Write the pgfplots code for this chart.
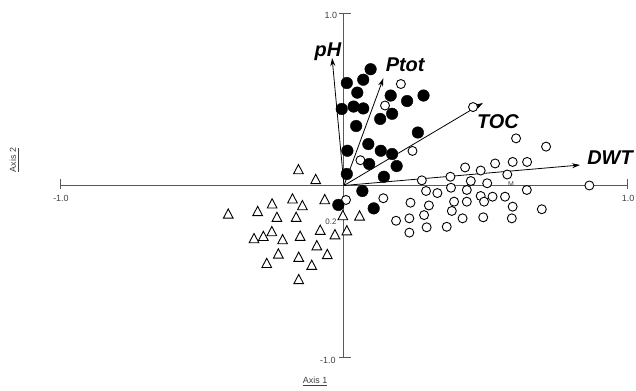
\documentclass[border=0pt]{standalone}
\usepackage{fontspec}
\setmainfont{Liberation Sans}
\usepackage{pgfplots}
\pgfplotsset{compat=1.18}
\usetikzlibrary{arrows.meta}

\begin{document}
\begin{tikzpicture}
\begin{axis}[
  width=636bp, height=391bp, scale only axis,
  xmin=-1.2155, xmax=1.0318, ymin=-1.1948, ymax=1.0785,
  hide axis, clip=false,
]
\coordinate (sw) at (rel axis cs:0,0);
\coordinate (ne) at (rel axis cs:1,1);
% axis lines
\draw[black!65, line width=1bp] (axis cs:-1,0) -- (axis cs:1,0);
\draw[black!65, line width=1bp] (axis cs:0,-1) -- (axis cs:0,1);
\draw[black!65, line width=1bp] (axis cs:-1,-0.023) -- (axis cs:-1,0.04);
\draw[black!65, line width=1bp] (axis cs:1,-0.023) -- (axis cs:1,0.04);
\draw[black!65, line width=1bp] (axis cs:-0.018,1) -- (axis cs:0.024,1);
\draw[black!65, line width=1bp] (axis cs:-0.018,-1) -- (axis cs:0.024,-1);
% tick labels
\node[font=\fontsize{9}{9}\selectfont, text=black!75] at (axis cs:-1.0,-0.073) {-1.0};
\node[font=\fontsize{9}{9}\selectfont, text=black!75] at (axis cs:1.004,-0.078) {1.0};
\node[font=\fontsize{9}{9}\selectfont, text=black!75] at (axis cs:-0.046,0.991) {1.0};
\node[font=\fontsize{9}{9}\selectfont, text=black!75] at (axis cs:-0.057,-1.015) {-1.0};
\node[font=\fontsize{8}{8}\selectfont, text=black!75] at (axis cs:-0.046,-0.212) {0.2};
\node[font=\fontsize{7}{7}\selectfont, text=black!75] at (axis cs:0.590,0.009) {M};
\node[font=\fontsize{9}{9}\selectfont, text=black!75] at (axis cs:-0.102,-1.137) {\underline{Axis 1}};
\node[font=\fontsize{9}{9}\selectfont, text=black!75, rotate=90] at (axis cs:-1.166,0.148) {\underline{Axis 2}};

% biplot arrows
\addplot[black, line width=0.8bp, -{Stealth[length=8bp,width=5bp]}] coordinates {(0,0) (-0.042,0.741)};
\addplot[black, line width=0.8bp, -{Stealth[length=8bp,width=5bp]}] coordinates {(0,0) (0.139,0.623)};
\addplot[black, line width=0.8bp, -{Stealth[length=8bp,width=5bp]}] coordinates {(0,0) (0.491,0.480)};
\addplot[black, line width=0.8bp, -{Stealth[length=8bp,width=5bp]}] coordinates {(0,0) (0.834,0.119)};

% open circles
\addplot[only marks, mark=*, mark size=4.5bp, mark options={fill=white, draw=black, line width=0.9bp}] coordinates {
(0.201,0.590) (0.145,0.465) (0.456,0.456) (0.242,0.201) (0.058,0.147)
(0.608,0.274) (0.714,0.226) (0.428,0.105) (0.483,0.087) (0.534,0.128)
(0.596,0.137) (0.647,0.137) (0.275,0.030) (0.376,0.051) (0.448,0.026)
(0.506,0.013) (0.577,0.064) (0.378,-0.013) (0.434,-0.026) (0.290,-0.032)
(0.330,-0.044) (0.646,-0.026) (0.867,0.000) (0.139,-0.074) (0.235,-0.100)
(0.300,-0.116) (0.389,-0.094) (0.434,-0.094) (0.483,-0.061) (0.525,-0.065)
(0.495,-0.094) (0.569,-0.065) (0.596,-0.123) (0.699,-0.138) (0.381,-0.148)
(0.283,-0.172) (0.231,-0.191) (0.184,-0.205) (0.419,-0.191) (0.492,-0.185)
(0.593,-0.191) (0.292,-0.243) (0.231,-0.274) (0.363,-0.240) (0.007,-0.084)
};

% filled circles
\addplot[only marks, mark=*, mark size=5.8bp, mark options={fill=black, draw=black}] coordinates {
(0.094,0.676) (0.068,0.615) (0.010,0.596) (0.047,0.540) (0.165,0.523)
(0.223,0.491) (0.281,0.523) (-0.008,0.445) (0.034,0.459) (0.068,0.448)
(0.170,0.417) (0.128,0.387) (0.043,0.346) (0.261,0.308) (0.086,0.241)
(0.012,0.202) (0.130,0.202) (0.170,0.183) (0.089,0.125) (0.186,0.113)
(0.010,0.067) (0.141,0.051) (0.065,-0.032) (-0.020,-0.113) (0.105,-0.133)
};

% triangles
\addplot[only marks, mark=triangle*, mark size=5.6bp, mark options={fill=white, draw=black, line width=0.9bp, yscale=1.1}] coordinates {
(-0.161,0.086) (-0.100,0.029) (-0.409,-0.172) (-0.305,-0.157) (-0.254,-0.113)
(-0.182,-0.084) (-0.147,-0.123) (-0.068,-0.088) (-0.237,-0.191) (-0.169,-0.191)
(-0.004,-0.181) (0.055,-0.183) (-0.084,-0.266) (-0.255,-0.274) (-0.285,-0.302)
(-0.318,-0.315) (-0.217,-0.321) (-0.155,-0.301) (-0.032,-0.292) (0.010,-0.269)
(-0.096,-0.356) (-0.232,-0.404) (-0.160,-0.423) (-0.059,-0.407) (-0.273,-0.459)
(-0.114,-0.470) (-0.160,-0.553)
};

% arrow labels
\node[font=\fontsize{20}{20}\selectfont\bfseries\itshape] at (axis cs:-0.057,0.776) {pH};
\node[font=\fontsize{20}{20}\selectfont\bfseries\itshape] at (axis cs:0.216,0.703) {Ptot};
\node[font=\fontsize{20}{20}\selectfont\bfseries\itshape] at (axis cs:0.544,0.369) {TOC};
\node[font=\fontsize{20}{20}\selectfont\bfseries\itshape] at (axis cs:0.940,0.160) {DWT};
\end{axis}
\pgfresetboundingbox
\path (sw) rectangle (ne);
\end{tikzpicture}
\end{document}
